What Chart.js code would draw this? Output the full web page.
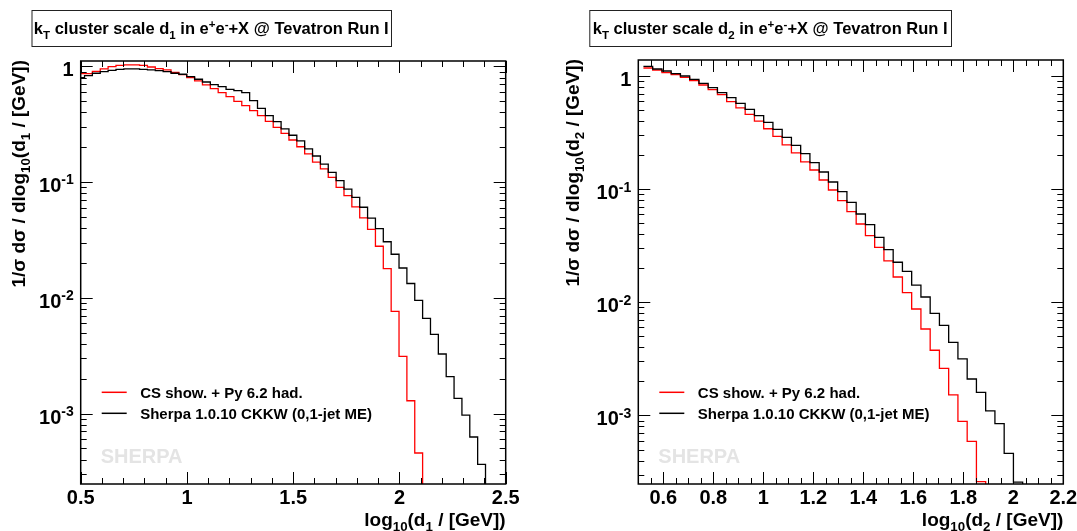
<!DOCTYPE html>
<html>
<head>
<meta charset="utf-8">
<script src="https://cdn.jsdelivr.net/npm/chart.js@4.4.1/dist/chart.umd.min.js"></script>
<style>
  html, body { margin: 0; padding: 0; background: #fff; }
  #wrap { position: relative; width: 1077px; height: 531px; overflow: hidden; }
  #wrap canvas { position: absolute; top: 0; }
</style>
</head>
<body>
<div id="wrap">
  <canvas id="chD1" width="538" height="531" style="left:0"></canvas>
  <canvas id="chD2" width="539" height="531" style="left:538px"></canvas>
</div>
<script>
// histogram bins, width in log10 units
var binWidth = 0.037;
var zeroFloor = 1e-6; // empty bins drop below the axis

// kT scale d1, bins start at 0.481
var d1FirstEdge = 0.481;
var d1Pythia = [0.865, 0.865, 0.906, 0.950, 0.995, 1.02, 1.03, 1.03, 1.02, 0.988,
  0.956, 0.931, 0.889, 0.848, 0.799, 0.748, 0.691, 0.642, 0.593, 0.548,
  0.499, 0.458, 0.414, 0.375, 0.335, 0.297, 0.264, 0.231, 0.202, 0.175,
  0.149, 0.130, 0.110, 0.0901, 0.0763, 0.0610, 0.0490, 0.0391, 0.0279, 0.0179,
  0.00764, 0.00312, 0.00129, 0.000456, 0, 0, 0, 0, 0, 0, 0, 0, 0];
var d1Sherpa = [0.798, 0.831, 0.872, 0.900, 0.925, 0.944, 0.950, 0.950, 0.944, 0.931,
  0.918, 0.900, 0.872, 0.855, 0.815, 0.774, 0.733, 0.695, 0.668, 0.634,
  0.617, 0.593, 0.505, 0.434, 0.375, 0.333, 0.288, 0.254, 0.227, 0.194,
  0.168, 0.143, 0.1215, 0.1028, 0.0871, 0.0739, 0.0606, 0.0489, 0.0396, 0.0305,
  0.0238, 0.0181, 0.0133, 0.00951, 0.00665, 0.00484, 0.00327, 0.00208, 0.00135, 0.00097,
  0.000627, 0.000364, 0];

// kT scale d2, bins start at 0.5205
var d2FirstEdge = 0.5205;
var d2Pythia = [1.177, 1.130, 1.070, 1.028, 0.973, 0.909, 0.833, 0.757, 0.684, 0.593,
  0.522, 0.458, 0.400, 0.342, 0.293, 0.246, 0.209, 0.174, 0.1477, 0.1205,
  0.0983, 0.0791, 0.0633, 0.0492, 0.0388, 0.0306, 0.0232, 0.01674, 0.01217, 0.00873,
  0.00581, 0.00377, 0.00261, 0.00152, 0.000888, 0.000591, 0.000260, 0, 0, 0, 0, 0];
var d2Sherpa = [1.217, 1.153, 1.107, 1.049, 1.000, 0.934, 0.861, 0.789, 0.712, 0.643,
  0.573, 0.507, 0.446, 0.390, 0.338, 0.287, 0.244, 0.206, 0.1714, 0.1418,
  0.1157, 0.0950, 0.0765, 0.0603, 0.0486, 0.0375, 0.0292, 0.0226, 0.0188, 0.0142,
  0.01114, 0.00799, 0.00626, 0.00443, 0.00316, 0.00210, 0.00160, 0.00110, 0.000847, 0.000463,
  0.000258, 0];

var seriesLabels = ['CS show. + Py 6.2 had.', 'Sherpa 1.0.10 CKKW (0,1-jet ME)'];
var seriesColors = ['#ff0000', '#000000'];

var d1XTicks = [0.5, 1, 1.5, 2, 2.5];
var d2XTicks = [0.6, 0.8, 1, 1.2, 1.4, 1.6, 1.8, 2, 2.2];
var yTickExps = [0, -1, -2, -3];

var FONT = '"Liberation Sans", Arial, Helvetica, sans-serif';
function font(size) { return 'bold ' + size + 'px ' + FONT; }

// rich text: [[text, 'n' | 'sub' | 'sup'], ...]
function partSize(p, size) { return p[1] === 'n' ? size : size * 0.7; }
function richWidth(ctx, parts, size) {
  var w = 0;
  parts.forEach(function (p) { ctx.font = font(partSize(p, size)); w += ctx.measureText(p[0]).width; });
  return w;
}
function drawRich(ctx, parts, x, y, size, align) {
  var w = richWidth(ctx, parts, size);
  var cx = align === 'right' ? x - w : (align === 'center' ? x - w / 2 : x);
  ctx.textAlign = 'left';
  ctx.textBaseline = 'alphabetic';
  parts.forEach(function (p) {
    var dy = p[1] === 'sub' ? size * 0.28 : (p[1] === 'sup' ? -size * 0.38 : 0);
    ctx.font = font(partSize(p, size));
    ctx.fillText(p[0], cx, y + dy);
    cx += ctx.measureText(p[0]).width;
  });
}

function histPoints(firstEdge, values) {
  var pts = values.map(function (v, i) {
    return { x: firstEdge + i * binWidth, y: v > 0 ? v : zeroFloor };
  });
  pts.push({ x: firstEdge + values.length * binWidth, y: pts[pts.length - 1].y });
  return pts;
}

function line(ctx, x1, y1, x2, y2) {
  ctx.beginPath(); ctx.moveTo(x1, y1); ctx.lineTo(x2, y2); ctx.stroke();
}

// ROOT style frame, inward ticks, labels, boxed title, legend
function rootDecor(p) {
  return {
    id: 'rootDecor',
    beforeDatasetsDraw: function (chart) {
      var ctx = chart.ctx, a = chart.chartArea;
      ctx.save();
      ctx.fillStyle = '#e4e4e4';
      ctx.font = font(20);
      ctx.textAlign = 'left';
      ctx.textBaseline = 'alphabetic';
      ctx.fillText('SHERPA', a.left + 20, a.bottom - 21);
      ctx.restore();
    },
    afterDraw: function (chart) {
      var ctx = chart.ctx, a = chart.chartArea;
      var xs = chart.scales.x, ys = chart.scales.y;
      ctx.save();
      ctx.strokeStyle = '#000';
      ctx.fillStyle = '#000';

      // x ticks (bottom and top)
      ctx.lineWidth = 1;
      var n = Math.round((p.xMax - p.xMin) / p.xMinorStep);
      for (var i = 0; i <= n; i++) {
        var v = p.xMin + i * p.xMinorStep;
        var major = p.xTicks.some(function (t) { return Math.abs(t - v) < 1e-6; });
        var len = major ? 12 : 6;
        var px = Math.round(xs.getPixelForValue(v)) + 0.5;
        line(ctx, px, a.bottom, px, a.bottom - len);
        line(ctx, px, a.top, px, a.top + len);
      }
      // y ticks (left and right)
      for (var e = -4; e <= 0; e++) {
        for (var m = 1; m <= 9; m++) {
          var yv = m * Math.pow(10, e);
          if (yv < p.yMin || yv > p.yMax) continue;
          var ylen = m === 1 ? 12 : 6;
          var py = Math.round(ys.getPixelForValue(yv)) + 0.5;
          line(ctx, a.left, py, a.left + ylen, py);
          line(ctx, a.right, py, a.right - ylen, py);
        }
      }

      // frame
      ctx.lineWidth = 1.5;
      ctx.strokeRect(a.left, a.top, a.right - a.left, a.bottom - a.top);

      // tick labels
      p.xTicks.forEach(function (t) {
        ctx.font = font(20);
        ctx.textAlign = 'center';
        ctx.textBaseline = 'alphabetic';
        ctx.fillText(String(t), xs.getPixelForValue(t), a.bottom + 20);
      });
      yTickExps.forEach(function (ex) {
        var parts = ex === 0 ? [['1', 'n']] : [['10', 'n'], [String(ex), 'sup']];
        drawRich(ctx, parts, a.left - 7, ys.getPixelForValue(Math.pow(10, ex)) + 10, 20, 'right');
      });

      // axis titles
      drawRich(ctx, p.xTitle, a.right, a.bottom + 42, 19, 'right');
      ctx.save();
      ctx.translate(p.yTitleX, a.top - 1);
      ctx.rotate(-Math.PI / 2);
      drawRich(ctx, p.yTitle, 0, 0, 19, 'right');
      ctx.restore();

      // boxed title
      ctx.lineWidth = 1;
      ctx.strokeStyle = '#222';
      ctx.strokeRect(p.boxLeft + 0.5, 10.5, p.boxRight - p.boxLeft, 36);
      drawRich(ctx, p.title, (p.boxLeft + p.boxRight) / 2, 34, 16.5, 'center');

      // legend
      chart.data.datasets.forEach(function (ds, k) {
        var ly = a.bottom - 91.7 + k * 21;
        ctx.strokeStyle = ds.borderColor;
        ctx.lineWidth = 1.5;
        line(ctx, a.left + 21, ly, a.left + 46, ly);
        ctx.fillStyle = '#000';
        ctx.font = font(15);
        ctx.textAlign = 'left';
        ctx.fillText(ds.label, a.left + 59.5, ly + 5.3);
      });
      ctx.restore();
    }
  };
}

function makeChart(id, firstEdge, pythia, sherpa, p, padding) {
  return new Chart(document.getElementById(id), {
    type: 'line',
    data: {
      datasets: [
        { label: seriesLabels[0], data: histPoints(firstEdge, pythia), borderColor: seriesColors[0],
          borderWidth: 1.3, stepped: 'before', pointRadius: 0, fill: false, order: 1 },
        { label: seriesLabels[1], data: histPoints(firstEdge, sherpa), borderColor: seriesColors[1],
          borderWidth: 1.3, stepped: 'before', pointRadius: 0, fill: false, order: 0 }
      ]
    },
    options: {
      responsive: false,
      animation: false,
      events: [],
      layout: { padding: padding },
      plugins: { legend: { display: false }, tooltip: { enabled: false } },
      scales: {
        x: { type: 'linear', min: p.xMin, max: p.xMax, display: false },
        y: { type: 'logarithmic', min: p.yMin, max: p.yMax, display: false }
      }
    },
    plugins: [rootDecor(p)]
  });
}

makeChart('chD1', d1FirstEdge, d1Pythia, d1Sherpa, {
  xMin: 0.5, xMax: 2.5, xMinorStep: 0.1, xTicks: d1XTicks,
  yMin: 2.46e-4, yMax: 1.113,
  boxLeft: 31.5, boxRight: 391,
  yTitleX: 24.5,
  title: [['k', 'n'], ['T', 'sub'], [' cluster scale d', 'n'], ['1', 'sub'], [' in e', 'n'], ['+', 'sup'],
          ['e', 'n'], ['-', 'sup'], ['+X @ Tevatron Run I', 'n']],
  xTitle: [['log', 'n'], ['10', 'sub'], ['(d', 'n'], ['1', 'sub'], [' / [GeV])', 'n']],
  yTitle: [['1/\u03c3 d\u03c3 / dlog', 'n'], ['10', 'sub'], ['(d', 'n'], ['1', 'sub'], [' / [GeV])', 'n']]
}, { left: 80.7, right: 32.3, top: 61, bottom: 47 });

makeChart('chD2', d2FirstEdge, d2Pythia, d2Sherpa, {
  xMin: 0.5, xMax: 2.2, xMinorStep: 0.05, xTicks: d2XTicks,
  yMin: 2.48e-4, yMax: 1.385,
  boxLeft: 51.3, boxRight: 413,
  yTitleX: 41,
  title: [['k', 'n'], ['T', 'sub'], [' cluster scale d', 'n'], ['2', 'sub'], [' in e', 'n'], ['+', 'sup'],
          ['e', 'n'], ['-', 'sup'], ['+X @ Tevatron Run I', 'n']],
  xTitle: [['log', 'n'], ['10', 'sub'], ['(d', 'n'], ['2', 'sub'], [' / [GeV])', 'n']],
  yTitle: [['1/\u03c3 d\u03c3 / dlog', 'n'], ['10', 'sub'], ['(d', 'n'], ['2', 'sub'], [' / [GeV])', 'n']]
}, { left: 100.3, right: 13.7, top: 60, bottom: 47 });
</script>
</body>
</html>
